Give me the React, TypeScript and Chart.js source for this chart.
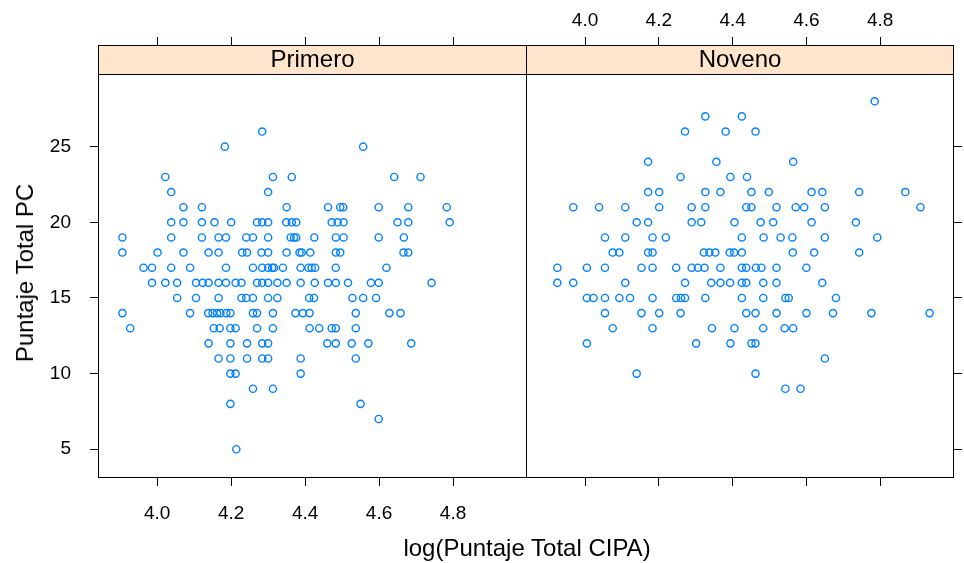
import React, { useEffect, useRef } from "react";
import { Chart, registerables } from "chart.js";

Chart.register(...registerables);

const xTicks = [4.0, 4.2, 4.4, 4.6, 4.8];
const yTicks = [5, 10, 15, 20, 25];
const panelNames = ["Primero", "Noveno"];
const xTitle = "log(Puntaje Total CIPA)";
const yTitle = "Puntaje Total PC";

// Primero panel: log(Puntaje Total CIPA) and Puntaje Total PC
const primeroX = [
  4.284,
  4.183, 4.557,
  4.022, 4.313, 4.364, 4.641, 4.712,
  4.038, 4.3,
  4.071, 4.121, 4.35, 4.462, 4.495, 4.503, 4.599, 4.679, 4.783,
  4.038, 4.071, 4.121, 4.155, 4.2, 4.27, 4.284, 4.3, 4.349, 4.364, 4.376, 4.472, 4.488, 4.504, 4.65, 4.679, 4.791,
  3.906, 4.038, 4.121, 4.166, 4.186, 4.241, 4.259, 4.3, 4.361, 4.37, 4.376, 4.425, 4.483, 4.504, 4.599, 4.667,
  3.906, 4.001, 4.071, 4.139, 4.166, 4.23, 4.243, 4.282, 4.3, 4.35, 4.385, 4.391, 4.414, 4.483, 4.495, 4.666, 4.679,
  3.963, 3.986, 4.038, 4.089, 4.186, 4.259, 4.284, 4.3, 4.311, 4.316, 4.34, 4.388, 4.409, 4.418, 4.427, 4.483, 4.62,
  3.986, 4.022, 4.054, 4.105, 4.123, 4.139, 4.166, 4.186, 4.212, 4.228, 4.27, 4.284, 4.3, 4.325, 4.35, 4.388, 4.426, 4.462, 4.483, 4.516, 4.578, 4.599, 4.742,
  4.054, 4.105, 4.166, 4.228, 4.241, 4.259, 4.3, 4.325, 4.411, 4.424, 4.528, 4.557, 4.592,
  3.906, 4.089, 4.138, 4.15, 4.162, 4.171, 4.187, 4.198, 4.259, 4.27, 4.313, 4.374, 4.394, 4.412, 4.537, 4.628, 4.658,
  3.927, 4.153, 4.169, 4.198, 4.212, 4.27, 4.313, 4.412, 4.438, 4.472, 4.483, 4.537,
  4.139, 4.198, 4.243, 4.284, 4.3, 4.46, 4.483, 4.526, 4.571, 4.687,
  4.166, 4.198, 4.243, 4.284, 4.3, 4.388, 4.537,
  4.198, 4.212, 4.388,
  4.259, 4.313,
  4.198, 4.55,
  4.599,
  4.214,
];
const primeroY = [
  26,
  25, 25,
  23, 23, 23, 23, 23,
  22, 22,
  21, 21, 21, 21, 21, 21, 21, 21, 21,
  20, 20, 20, 20, 20, 20, 20, 20, 20, 20, 20, 20, 20, 20, 20, 20, 20,
  19, 19, 19, 19, 19, 19, 19, 19, 19, 19, 19, 19, 19, 19, 19, 19,
  18, 18, 18, 18, 18, 18, 18, 18, 18, 18, 18, 18, 18, 18, 18, 18, 18,
  17, 17, 17, 17, 17, 17, 17, 17, 17, 17, 17, 17, 17, 17, 17, 17, 17,
  16, 16, 16, 16, 16, 16, 16, 16, 16, 16, 16, 16, 16, 16, 16, 16, 16, 16, 16, 16, 16, 16, 16,
  15, 15, 15, 15, 15, 15, 15, 15, 15, 15, 15, 15, 15,
  14, 14, 14, 14, 14, 14, 14, 14, 14, 14, 14, 14, 14, 14, 14, 14, 14,
  13, 13, 13, 13, 13, 13, 13, 13, 13, 13, 13, 13,
  12, 12, 12, 12, 12, 12, 12, 12, 12, 12,
  11, 11, 11, 11, 11, 11, 11,
  10, 10, 10,
  9, 9,
  8, 8,
  7,
  5,
];

// Noveno panel
const novenoX = [
  4.785,
  4.326, 4.425,
  4.271, 4.381, 4.462,
  4.171, 4.356, 4.564,
  4.259, 4.394, 4.439,
  4.171, 4.201, 4.326, 4.367, 4.451, 4.498, 4.614, 4.643, 4.743, 4.868,
  3.968, 4.038, 4.109, 4.201, 4.289, 4.326, 4.437, 4.451, 4.519, 4.571, 4.594, 4.65, 4.909,
  4.14, 4.171, 4.289, 4.315, 4.405, 4.476, 4.51, 4.614, 4.734,
  4.054, 4.109, 4.183, 4.219, 4.425, 4.484, 4.53, 4.562, 4.65, 4.792,
  4.075, 4.093, 4.171, 4.183, 4.322, 4.337, 4.353, 4.392, 4.404, 4.425, 4.563, 4.621, 4.743,
  3.925, 4.005, 4.054, 4.153, 4.183, 4.247, 4.289, 4.306, 4.324, 4.367, 4.425, 4.437, 4.463, 4.478, 4.519, 4.6,
  3.925, 3.968, 4.109, 4.271, 4.342, 4.367, 4.393, 4.425, 4.437, 4.483, 4.519, 4.643,
  4.005, 4.023, 4.054, 4.093, 4.122, 4.183, 4.247, 4.26, 4.271, 4.326, 4.425, 4.483, 4.543, 4.552, 4.68,
  4.054, 4.153, 4.201, 4.259, 4.437, 4.462, 4.519, 4.6, 4.672, 4.776, 4.934,
  4.075, 4.183, 4.344, 4.405, 4.483, 4.541, 4.564,
  4.005, 4.301, 4.394, 4.451, 4.462,
  4.65,
  4.14, 4.462,
  4.543, 4.584,
];
const novenoY = [
  28,
  27, 27,
  26, 26, 26,
  24, 24, 24,
  23, 23, 23,
  22, 22, 22, 22, 22, 22, 22, 22, 22, 22,
  21, 21, 21, 21, 21, 21, 21, 21, 21, 21, 21, 21, 21,
  20, 20, 20, 20, 20, 20, 20, 20, 20,
  19, 19, 19, 19, 19, 19, 19, 19, 19, 19,
  18, 18, 18, 18, 18, 18, 18, 18, 18, 18, 18, 18, 18,
  17, 17, 17, 17, 17, 17, 17, 17, 17, 17, 17, 17, 17, 17, 17, 17,
  16, 16, 16, 16, 16, 16, 16, 16, 16, 16, 16, 16,
  15, 15, 15, 15, 15, 15, 15, 15, 15, 15, 15, 15, 15, 15, 15,
  14, 14, 14, 14, 14, 14, 14, 14, 14, 14, 14,
  13, 13, 13, 13, 13, 13, 13,
  12, 12, 12, 12, 12,
  11,
  10, 10,
  9, 9,
];

const FONT = '"Liberation Sans", Arial, sans-serif';
const POINT_COLOR = "#0080ff";
const STRIP_COLOR = "#ffe5cc";
const STRIP_H = 29;
const X_MIN = 3.84;
const X_MAX = 5.0;
const Y_MIN = 3.1;
const Y_MAX = 31.72;
const TICK_SIZE = 19;
const BIG_SIZE = 24;

function panelPlugin(label: string) {
  return {
    id: "panelStrip",
    beforeDatasetsDraw(chart: any) {
      const { ctx, chartArea: a } = chart;
      ctx.save();
      ctx.fillStyle = STRIP_COLOR;
      ctx.fillRect(a.left, a.top, a.right - a.left, STRIP_H);
      ctx.strokeStyle = "#000";
      ctx.lineWidth = 1;
      ctx.beginPath();
      ctx.moveTo(a.left, a.top + STRIP_H + 0.5);
      ctx.lineTo(a.right, a.top + STRIP_H + 0.5);
      ctx.stroke();
      ctx.fillStyle = "#000";
      ctx.font = `${BIG_SIZE}px ${FONT}`;
      ctx.textAlign = "center";
      ctx.textBaseline = "middle";
      ctx.fillText(label, (a.left + a.right) / 2, a.top + STRIP_H / 2 + 1);
      ctx.restore();
    },
    afterDraw(chart: any) {
      const { ctx, chartArea: a } = chart;
      ctx.save();
      ctx.strokeStyle = "#000";
      ctx.lineWidth = 1;
      ctx.strokeRect(a.left + 0.5, a.top + 0.5, a.right - a.left - 1, a.bottom - a.top - 1);
      ctx.restore();
    },
  };
}

function xAxis(position: string, showLabels: boolean, height: number, padding: number) {
  return {
    type: "linear",
    position,
    min: X_MIN,
    max: X_MAX,
    afterBuildTicks: (s: any) => {
      s.ticks = xTicks.map((v) => ({ value: v }));
    },
    afterFit: (s: any) => {
      s.height = height;
    },
    ticks: {
      display: showLabels,
      color: "#000",
      font: { family: FONT, size: TICK_SIZE },
      padding,
      maxRotation: 0,
      autoSkip: false,
      callback: (v: any) => Number(v).toFixed(1),
    },
    grid: {
      drawOnChartArea: false,
      drawTicks: true,
      tickLength: 8,
      tickColor: "#000",
      lineWidth: 1,
    },
    border: { display: false },
  };
}

function yAxis(position: string, showLabels: boolean, width: number) {
  return {
    type: "linear",
    position,
    min: Y_MIN,
    max: Y_MAX,
    afterBuildTicks: (s: any) => {
      s.ticks = yTicks.map((v) => ({ value: v }));
    },
    afterFit: (s: any) => {
      s.width = width;
    },
    ticks: {
      display: showLabels,
      color: "#000",
      font: { family: FONT, size: TICK_SIZE },
      padding: 19,
      autoSkip: false,
      callback: (v: any) => String(v),
    },
    grid: {
      drawOnChartArea: false,
      drawTicks: true,
      tickLength: 8,
      tickColor: "#000",
      lineWidth: 1,
    },
    border: { display: false },
  };
}

function makeConfig(xs: number[], ys: number[], label: string, isLeft: boolean): any {
  const data = xs.map((x, i) => ({ x, y: ys[i] }));
  const scales: any = isLeft
    ? {
        x: xAxis("bottom", true, 85, 16),
        x2: xAxis("top", false, 45, 5),
        y: yAxis("left", true, 98),
      }
    : {
        x: xAxis("bottom", false, 85, 16),
        x2: xAxis("top", true, 45, 5),
        y: yAxis("right", false, 10),
      };
  return {
    type: "scatter",
    data: {
      datasets: [
        {
          data,
          xAxisID: "x",
          yAxisID: "y",
          pointStyle: "circle",
          pointRadius: 3.6,
          pointBorderWidth: 1.4,
          pointBackgroundColor: "rgba(0,0,0,0)",
          pointBorderColor: POINT_COLOR,
          showLine: false,
        },
      ],
    },
    options: {
      responsive: false,
      animation: false,
      devicePixelRatio: 1,
      layout: { padding: 0, autoPadding: false },
      plugins: {
        legend: { display: false },
        tooltip: { enabled: false },
        title: { display: false },
      },
      scales,
    },
    plugins: [panelPlugin(label)],
  };
}

function Panel(props: { xs: number[]; ys: number[]; label: string; isLeft: boolean; left: number; width: number }) {
  const ref = useRef<HTMLCanvasElement | null>(null);
  useEffect(() => {
    if (!ref.current) return;
    const chart = new Chart(ref.current, makeConfig(props.xs, props.ys, props.label, props.isLeft));
    return () => chart.destroy();
  }, []);
  return (
    <canvas
      ref={ref}
      width={props.width}
      height={563}
      style={{ position: "absolute", left: props.left, top: 0, width: props.width, height: 563 }}
    />
  );
}

export default function App() {
  return (
    <div style={{ position: "absolute", left: 0, top: 0, width: 964, height: 563, background: "#fff", overflow: "hidden" }}>
      <Panel xs={primeroX} ys={primeroY} label={panelNames[0]} isLeft={true} left={0} width={527} />
      <Panel xs={novenoX} ys={novenoY} label={panelNames[1]} isLeft={false} left={526} width={438} />
      <div
        style={{
          position: "absolute",
          left: 0,
          width: 1054,
          top: 534,
          textAlign: "center",
          font: `${BIG_SIZE}px ${FONT}`,
          color: "#000",
          lineHeight: "28px",
        }}
      >
        {xTitle}
      </div>
      <div
        style={{
          position: "absolute",
          left: 25,
          top: 273,
          transform: "translate(-50%, -50%) rotate(-90deg)",
          font: `${BIG_SIZE}px ${FONT}`,
          color: "#000",
          whiteSpace: "nowrap",
          lineHeight: "28px",
        }}
      >
        {yTitle}
      </div>
    </div>
  );
}
